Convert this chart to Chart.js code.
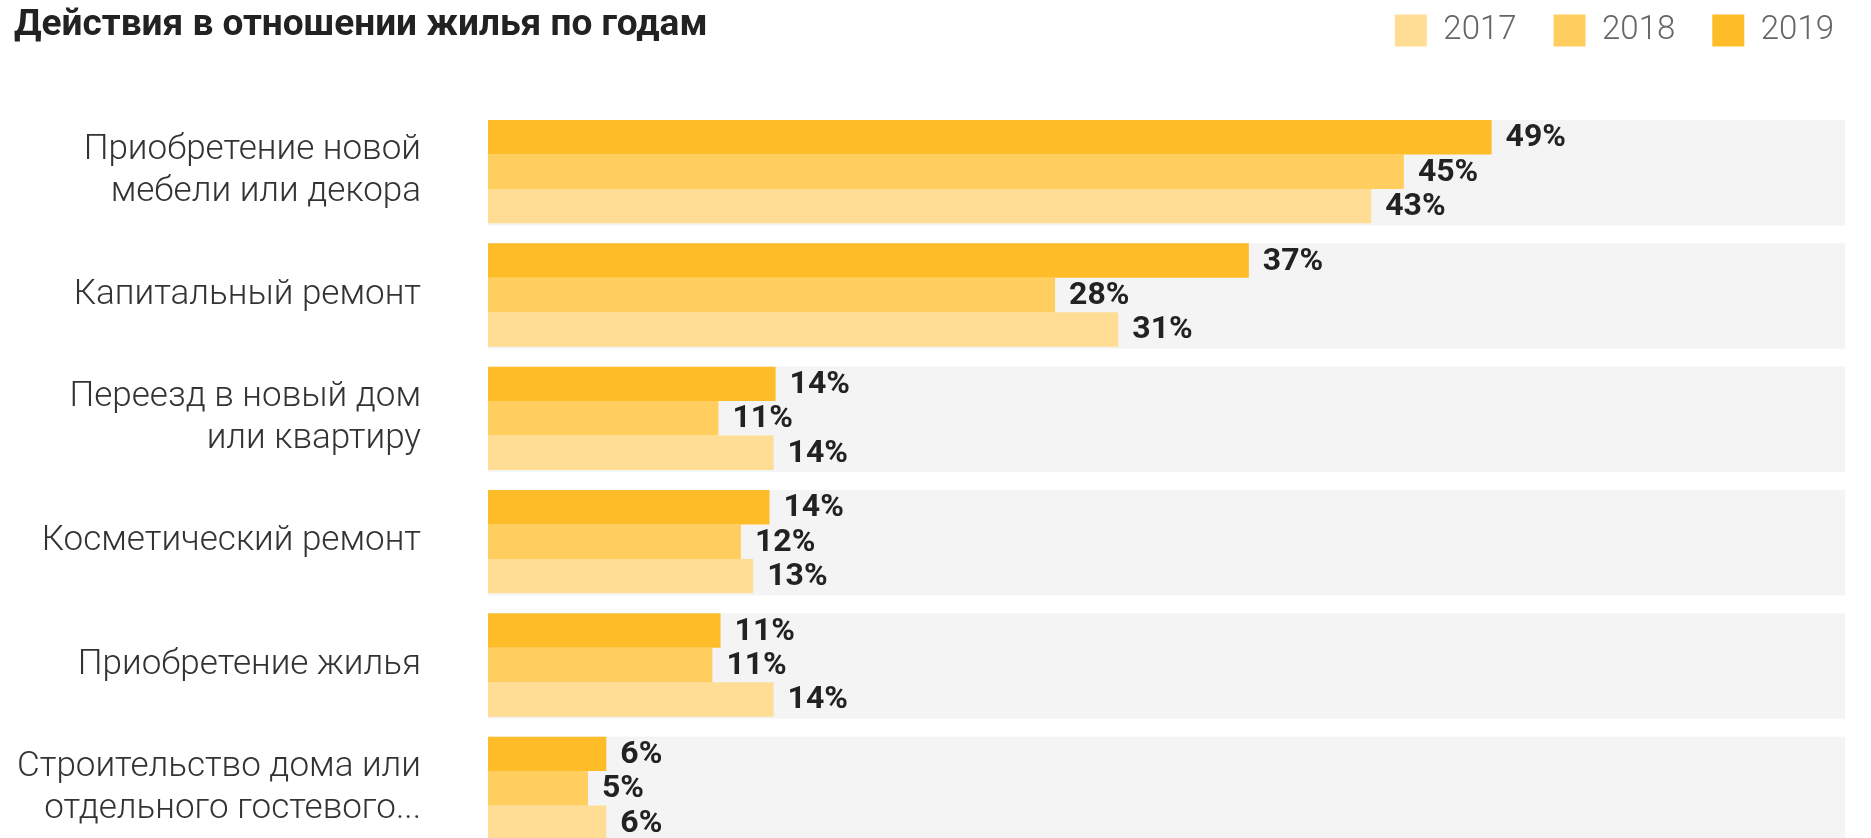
<!DOCTYPE html>
<html>
<head>
<meta charset="utf-8">
<script src="https://cdn.jsdelivr.net/npm/chart.js@4.4.0/dist/chart.umd.min.js"></script>
<style>
  html, body { margin: 0; padding: 0; background: #fff; overflow: hidden; }
  body { position: relative; width: 1871px; height: 838px; }
  #wrap { position: absolute; left: 0; top: -23.5px; width: 1871px; height: 873px; }
  #title {
    position: absolute; left: 14px; top: 1px; z-index: 2;
    font-family: Roboto, sans-serif; font-weight: 700; font-size: 37px;
    color: #222;
  }
</style>
</head>
<body>
<div id="title">Действия в отношении жилья по годам</div>
<div id="wrap">
  <canvas id="chart"></canvas>
</div>
<script>
// categories (multi-line labels as in the picture)
const categories = [
  ['Приобретение новой', 'мебели или декора'],
  'Капитальный ремонт',
  ['Переезд в новый дом', 'или квартиру'],
  'Косметический ремонт',
  'Приобретение жилья',
  ['Строительство дома или', 'отдельного гостевого...']
]
// shares, %
const values2019 = [49.2, 37.3, 14.1, 13.8, 11.4, 5.8]
const values2018 = [44.9, 27.8, 11.3, 12.4, 11.0, 4.9]
const values2017 = [43.3, 30.9, 14.0, 13.0, 14.0, 5.8]
const years = ['2019', '2018', '2017']

const colors = { '2019': '#ffbc29', '2018': '#ffce5f', '2017': '#ffdd94' }

// grey track behind each group of bars
const trackPlugin = {
  id: 'track',
  beforeDatasetsDraw(chart) {
    const ctx = chart.ctx
    const area = chart.chartArea
    const y = chart.scales.y
    const step = y.getPixelForValue(1) - y.getPixelForValue(0)
    const h = step * 0.838
    ctx.save()
    ctx.fillStyle = '#f4f4f4'
    for (let i = 0; i < categories.length; i++) {
      const c = y.getPixelForValue(i)
      ctx.fillRect(area.left, c - h / 2, area.right - 26 - area.left, h + 2)
    }
    ctx.restore()
  }
}

// "49%" labels at the end of each bar
const valueLabels = {
  id: 'valueLabels',
  afterDatasetsDraw(chart) {
    const ctx = chart.ctx
    ctx.save()
    ctx.font = '700 32px Roboto, sans-serif'
    ctx.fillStyle = '#222'
    ctx.textBaseline = 'middle'
    ctx.textAlign = 'left'
    chart.data.datasets.forEach((ds, di) => {
      chart.getDatasetMeta(di).data.forEach((bar, i) => {
        ctx.fillText(Math.round(ds.data[i]) + '%', bar.x + 14, bar.y + 1)
      })
    })
    ctx.restore()
  }
}

// legend sits on the title row; give it the height of the header band
const legendHeight = {
  id: 'legendHeight',
  afterInit(chart) {
    const fit = chart.legend.fit
    chart.legend.fit = function () {
      fit.call(this)
      this.height = 133
    }
  }
}

new Chart(document.getElementById('chart'), {
  type: 'bar',
  data: {
    labels: categories,
    datasets: [
      { label: years[0], data: values2019, backgroundColor: colors['2019'] },
      { label: years[1], data: values2018, backgroundColor: colors['2018'] },
      { label: years[2], data: values2017, backgroundColor: colors['2017'] }
    ]
  },
  options: {
    indexAxis: 'y',
    responsive: true,
    maintainAspectRatio: false,
    animation: false,
    layout: { padding: 0 },
    datasets: {
      bar: { categoryPercentage: 0.838, barPercentage: 1, borderWidth: 0 }
    },
    scales: {
      x: { display: false, min: 0, max: 67.8 },
      y: {
        grid: { display: false, drawTicks: false },
        border: { display: false },
        ticks: {
          padding: 67,
          color: '#333',
          font: { family: 'Roboto', weight: '300', size: 35, lineHeight: 1.2 }
        },
        afterFit(scale) {
          scale.width = 488
          // the tick padding is horizontal gap only, no extra room above/below
          scale.paddingTop = 0
          scale.paddingBottom = 0
        }
      }
    },
    plugins: {
      legend: {
        position: 'top',
        align: 'end',
        reverse: true,
        labels: {
          boxWidth: 32,
          boxHeight: 32,
          padding: 37,
          color: '#666',
          font: { family: 'Roboto', weight: '300', size: 33 }
        }
      },
      tooltip: { enabled: false }
    }
  },
  plugins: [trackPlugin, valueLabels, legendHeight]
})
</script>
</body>
</html>
